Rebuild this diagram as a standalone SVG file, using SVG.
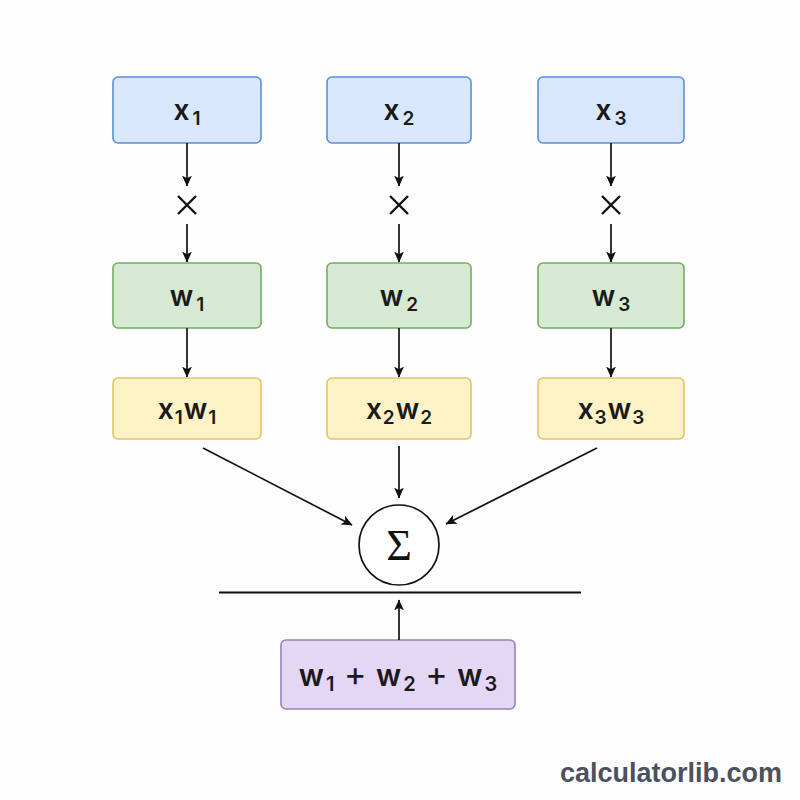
<svg xmlns="http://www.w3.org/2000/svg" width="800" height="800" viewBox="0 0 800 800">
<defs>
<marker id="ah" viewBox="0 0 10 10" refX="9.5" refY="5" markerWidth="11" markerHeight="11" markerUnits="userSpaceOnUse" orient="auto">
<path d="M0,0.5 L10,5 L0,9.5 L2.5,5 Z" fill="#111"/>
</marker>
<style>
.lbl{font-family:Inter,"Liberation Sans",Arial,sans-serif;font-size:28px;fill:#1a1a1a;text-anchor:middle;font-weight:600}
.sub{font-size:19px}
.blue{fill:#d8e7fb;stroke:#5b8fd9;stroke-width:1.6}
.green{fill:#d6e9d3;stroke:#74ad5e;stroke-width:1.6}
.yellow{fill:#fdf1c6;stroke:#e3c463;stroke-width:1.6}
.purple{fill:#e4d6f5;stroke:#9d7dbd;stroke-width:1.6}
.con{stroke:#111;stroke-width:1.7;fill:none;marker-end:url(#ah)}
.times{stroke:#111;stroke-width:2.4;fill:none}
</style>
</defs>
<rect width="800" height="800" fill="#fdfdfd"/>

<g id="x1"><rect class="blue" x="113" y="77" width="148" height="66" rx="5"/><text class="lbl" x="187" y="120">x<tspan class="sub" dx="3" dy="5">1</tspan></text></g>
<g id="x2"><rect class="blue" x="327" y="77" width="144" height="66" rx="5"/><text class="lbl" x="399" y="120">x<tspan class="sub" dx="3" dy="5">2</tspan></text></g>
<g id="x3"><rect class="blue" x="538" y="77" width="146" height="66" rx="5"/><text class="lbl" x="611" y="120">x<tspan class="sub" dx="3" dy="5">3</tspan></text></g>

<g id="w1"><rect class="green" x="113" y="263" width="148" height="65" rx="5"/><text class="lbl" x="187" y="306">w<tspan class="sub" dx="3" dy="5">1</tspan></text></g>
<g id="w2"><rect class="green" x="327" y="263" width="144" height="65" rx="5"/><text class="lbl" x="399" y="306">w<tspan class="sub" dx="3" dy="5">2</tspan></text></g>
<g id="w3"><rect class="green" x="538" y="263" width="146" height="65" rx="5"/><text class="lbl" x="611" y="306">w<tspan class="sub" dx="3" dy="5">3</tspan></text></g>

<g id="p1"><rect class="yellow" x="113" y="378" width="148" height="61" rx="5"/><text class="lbl" x="187" y="419">x<tspan class="sub" dx="1" dy="5">1</tspan><tspan dx="1" dy="-5">w</tspan><tspan class="sub" dx="1" dy="5">1</tspan></text></g>
<g id="p2"><rect class="yellow" x="327" y="378" width="144" height="61" rx="5"/><text class="lbl" x="399" y="419">x<tspan class="sub" dx="1" dy="5">2</tspan><tspan dx="1" dy="-5">w</tspan><tspan class="sub" dx="1" dy="5">2</tspan></text></g>
<g id="p3"><rect class="yellow" x="538" y="378" width="146" height="61" rx="5"/><text class="lbl" x="611" y="419">x<tspan class="sub" dx="1" dy="5">3</tspan><tspan dx="1" dy="-5">w</tspan><tspan class="sub" dx="1" dy="5">3</tspan></text></g>

<g id="sum"><circle cx="399" cy="545" r="40" fill="#fff" stroke="#111" stroke-width="1.7"/><text x="399" y="560" style="font-family:'Liberation Serif','Times New Roman',serif;font-size:44px;fill:#111;text-anchor:middle">Σ</text></g>

<g id="bar"><line x1="219" y1="592.5" x2="581" y2="592.5" stroke="#111" stroke-width="2.2"/></g>

<g id="wsum"><rect class="purple" x="281" y="640" width="234" height="69" rx="5"/><text class="lbl" x="398" y="686" style="font-size:30px">w<tspan class="sub" style="font-size:20px" dx="2" dy="5">1</tspan><tspan dy="-5" style="font-weight:400;font-size:34px"> + </tspan><tspan>w</tspan><tspan class="sub" style="font-size:20px" dx="2" dy="5">2</tspan><tspan dy="-5" style="font-weight:400;font-size:34px"> + </tspan><tspan>w</tspan><tspan class="sub" style="font-size:20px" dx="2" dy="5">3</tspan></text></g>

<g id="ops">
<path class="times" d="M178,196 L196,214 M196,196 L178,214"/>
<path class="times" d="M390,196 L408,214 M408,196 L390,214"/>
<path class="times" d="M602,196 L620,214 M620,196 L602,214"/>
</g>

<g id="connectors">
<line class="con" x1="187" y1="143" x2="187" y2="186"/>
<line class="con" x1="187" y1="224" x2="187" y2="262"/>
<line class="con" x1="399" y1="143" x2="399" y2="186"/>
<line class="con" x1="399" y1="224" x2="399" y2="262"/>
<line class="con" x1="611" y1="143" x2="611" y2="186"/>
<line class="con" x1="611" y1="224" x2="611" y2="262"/>
<line class="con" x1="187" y1="328" x2="187" y2="377"/>
<line class="con" x1="399" y1="328" x2="399" y2="377"/>
<line class="con" x1="611" y1="328" x2="611" y2="377"/>
<line class="con" x1="203" y1="448" x2="352" y2="525"/>
<line class="con" x1="399" y1="446" x2="399" y2="498"/>
<line class="con" x1="597" y1="448" x2="446" y2="524"/>
<line class="con" x1="399" y1="640" x2="399" y2="600"/>
</g>

<text x="671" y="782" style="font-family:'Liberation Sans',Arial,sans-serif;font-size:27px;font-weight:bold;fill:#4b5160;text-anchor:middle">calculatorlib.com</text>
</svg>
